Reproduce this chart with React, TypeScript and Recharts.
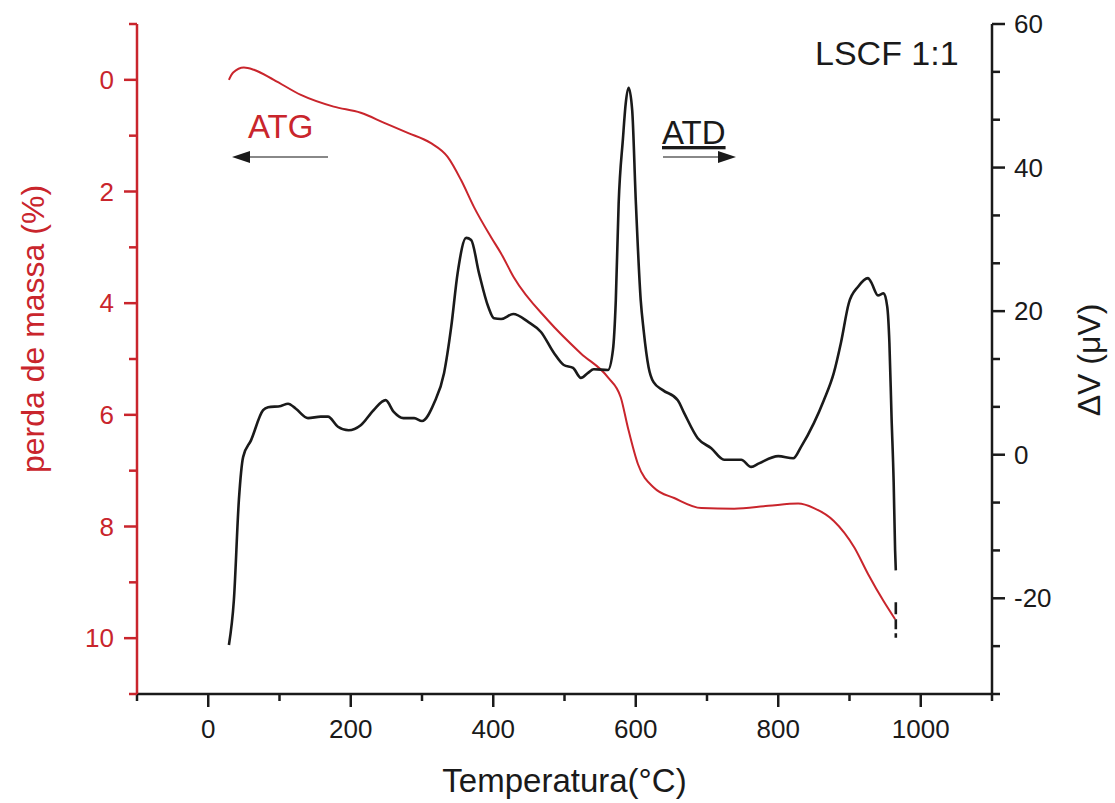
import { ComposedChart, Line, XAxis, YAxis, Customized } from "recharts"

const atdTemp = [
  29, 36, 43, 49, 60, 77, 84, 102, 112, 123, 140, 158, 168, 182, 197, 214, 232, 249, 260, 274,
  289, 300, 317, 331, 341, 350, 362, 369, 380, 393, 401, 411, 428, 449, 467, 485, 499, 512, 523, 533,
  541, 561, 568, 572, 576, 582, 586, 590, 595, 600, 607, 611, 618, 625, 638, 659, 668, 687, 706, 724,
  734, 748, 762, 773, 800, 821, 832, 850, 864, 878, 888, 899, 912, 926, 930, 940, 948, 953, 956, 959,
  962, 964, 965,
]
const atdVolt = [
  -26.5, -20.2, -6.3, -0.3, 2.0, 6.2, 6.6, 6.8, 7.1, 6.4, 5.1, 5.3, 5.3, 3.9, 3.4, 4.1, 6.2, 7.6, 6.0, 5.1,
  5.1, 4.7, 7.2, 11.4, 17.8, 25.3, 30.2, 29.9, 25.3, 20.6, 19.0, 18.9, 19.6, 18.5, 17.1, 14.2, 12.5, 12.1, 10.7, 11.4,
  11.9, 11.8, 14.6, 21.5, 35.0, 44.0, 49.0, 51.1, 48.0, 35.5, 21.5, 17.4, 12.2, 10.1, 9.0, 7.6, 5.8, 2.3, 0.9, -0.7,
  -0.7, -0.7, -1.7, -1.2, -0.2, -0.5, 1.1, 4.4, 7.6, 11.4, 15.6, 21.1, 23.4, 24.6, 24.1, 22.2, 22.5, 20.6, 15.6, 5.3,
  -3.9, -13.3, -16.1,
]
const atdTailTemp = [965, 965]
const atdTailVolt = [-16.1, -25.5]

const atgTemp = [
  29, 35, 50, 64, 92, 130, 176, 214, 247, 280, 312, 336, 355, 373, 397, 411, 429, 477, 523, 561,
  579, 589, 603, 626, 654, 692, 738, 786, 828, 850, 878, 907, 926, 948, 964,
]
const atgMass = [
  0.0, -0.13, -0.22, -0.18, 0.0, 0.27, 0.48, 0.59, 0.77, 0.95, 1.13, 1.38, 1.8, 2.28, 2.82, 3.11, 3.54, 4.31, 4.9, 5.33,
  5.69, 6.23, 6.88, 7.31, 7.49, 7.67, 7.68, 7.63, 7.59, 7.67, 7.9, 8.38, 8.85, 9.34, 9.66,
]

const xTicks = [-100, 0, 100, 200, 300, 400, 500, 600, 700, 800, 900, 1000, 1100]
const xLabels = [0, 200, 400, 600, 800, 1000]
const massTicks = [-1, 0, 1, 2, 3, 4, 5, 6, 7, 8, 9, 10, 11]
const massLabels = [0, 2, 4, 6, 8, 10]
const voltTicks = [-100 / 3, -80 / 3, -20, -40 / 3, -20 / 3, 0, 20 / 3, 40 / 3, 20, 80 / 3, 100 / 3, 40, 140 / 3, 160 / 3, 60]
const voltLabels = [-20, 0, 20, 40, 60]

const atdData = atdTemp.map((t, i) => ({ t, v: atdVolt[i] }))
const atdTail = atdTailTemp.map((t, i) => ({ t, v: atdTailVolt[i] }))
const atgData = atgTemp.map((t, i) => ({ t, m: atgMass[i] }))

const RED = "#c9252c"
const INK = "#1a1a1a"
const FONT = "'Liberation Sans', Arial, sans-serif"

const W = 1115
const H = 803
const LEFT = 137
const RIGHT = 992
const TOP = 24
const BOTTOM = 694

const isLabel = (list: number[], v: number) => list.some((l) => Math.abs(l - v) < 1e-6)

function XTick(props: any) {
  const { x, y, payload } = props
  const major = isLabel(xLabels, payload.value)
  return (
    <g>
      <line x1={x} y1={y} x2={x} y2={y + (major ? 13 : 7)} stroke={INK} strokeWidth={2.5} />
      {major && (
        <text x={x} y={y + 44} textAnchor="middle" fontSize={26} fill={INK} fontFamily={FONT}>
          {payload.value}
        </text>
      )}
    </g>
  )
}

function MassTick(props: any) {
  const { x, y, payload } = props
  const major = isLabel(massLabels, payload.value)
  return (
    <g>
      <line x1={x} y1={y} x2={x - (major ? 13 : 8)} y2={y} stroke={RED} strokeWidth={2.5} />
      {major && (
        <text x={x - 23} y={y + 9} textAnchor="end" fontSize={26} fill={RED} fontFamily={FONT}>
          {payload.value}
        </text>
      )}
    </g>
  )
}

function VoltTick(props: any) {
  const { x, y, payload } = props
  const major = isLabel(voltLabels, payload.value)
  return (
    <g>
      <line x1={x} y1={y} x2={x + (major ? 13 : 8)} y2={y} stroke={INK} strokeWidth={2.5} />
      {major && (
        <text x={x + 22} y={y + 9} textAnchor="start" fontSize={26} fill={INK} fontFamily={FONT}>
          {Math.round(payload.value)}
        </text>
      )}
    </g>
  )
}

function Notes() {
  return (
    <g fontFamily={FONT}>
      <text x={815} y={65} fontSize={34} fill={INK}>LSCF 1:1</text>
      <text x={248} y={138} fontSize={33} fill={RED}>ATG</text>
      <line x1={246} y1={157} x2={328} y2={157} stroke="#888" strokeWidth={2} />
      <polygon points="232,157 250,151 250,163" fill={INK} />
      <text x={662} y={144} fontSize={33} fill={INK} textDecoration="underline">ATD</text>
      <line x1={663} y1={157} x2={720} y2={157} stroke="#888" strokeWidth={2} />
      <polygon points="736,157 718,151 718,163" fill={INK} />
      <text x={(LEFT + RIGHT) / 2} y={792} fontSize={33} fill={INK} textAnchor="middle">
        Temperatura(°C)
      </text>
      <text x={44} y={329} fontSize={32} fill={RED} textAnchor="middle" transform="rotate(-90 44 329)">
        perda de massa (%)
      </text>
      <text x={1100} y={360} fontSize={32} fill={INK} textAnchor="middle" transform="rotate(-90 1100 360)">
        ΔV (μV)
      </text>
    </g>
  )
}

export default function App() {
  return (
    <div style={{ position: "absolute", left: 0, top: 0, width: W, height: H, background: "#fff" }}>
      <ComposedChart width={W} height={H} margin={{ top: TOP, right: 0, bottom: 0, left: 0 }}>
        <XAxis
          xAxisId="top"
          orientation="top"
          type="number"
          domain={[-100, 1100]}
          height={0}
          tick={false}
          tickLine={false}
          axisLine={{ stroke: INK, strokeWidth: 2.5 }}
        />
        <XAxis
          dataKey="t"
          type="number"
          domain={[-100, 1100]}
          ticks={xTicks}
          interval={0}
          height={H - BOTTOM}
          tickSize={0}
          tickMargin={0}
          tickLine={false}
          tick={<XTick />}
          axisLine={{ stroke: INK, strokeWidth: 2.5 }}
        />
        <YAxis
          yAxisId="left"
          type="number"
          reversed
          domain={[-1, 11]}
          ticks={massTicks}
          interval={0}
          width={LEFT}
          tickSize={0}
          tickMargin={0}
          tickLine={false}
          tick={<MassTick />}
          axisLine={{ stroke: RED, strokeWidth: 2.5 }}
        />
        <YAxis
          yAxisId="right"
          orientation="right"
          type="number"
          domain={[-100 / 3, 60]}
          ticks={voltTicks}
          interval={0}
          width={W - RIGHT}
          tickSize={0}
          tickMargin={0}
          tickLine={false}
          tick={<VoltTick />}
          axisLine={{ stroke: INK, strokeWidth: 2.5 }}
        />
        <Line
          data={atgData}
          dataKey="m"
          yAxisId="left"
          type="monotone"
          stroke={RED}
          strokeWidth={2}
          dot={false}
          isAnimationActive={false}
        />
        <Line
          data={atdData}
          dataKey="v"
          yAxisId="right"
          type="monotone"
          stroke={INK}
          strokeWidth={2.6}
          dot={false}
          isAnimationActive={false}
        />
        <Line
          data={atdTail}
          dataKey="v"
          yAxisId="right"
          type="linear"
          stroke={INK}
          strokeWidth={2.6}
          strokeDasharray="0 32 12 5 10 4 8"
          dot={false}
          isAnimationActive={false}
        />
        <Customized component={Notes} />
      </ComposedChart>
    </div>
  )
}
